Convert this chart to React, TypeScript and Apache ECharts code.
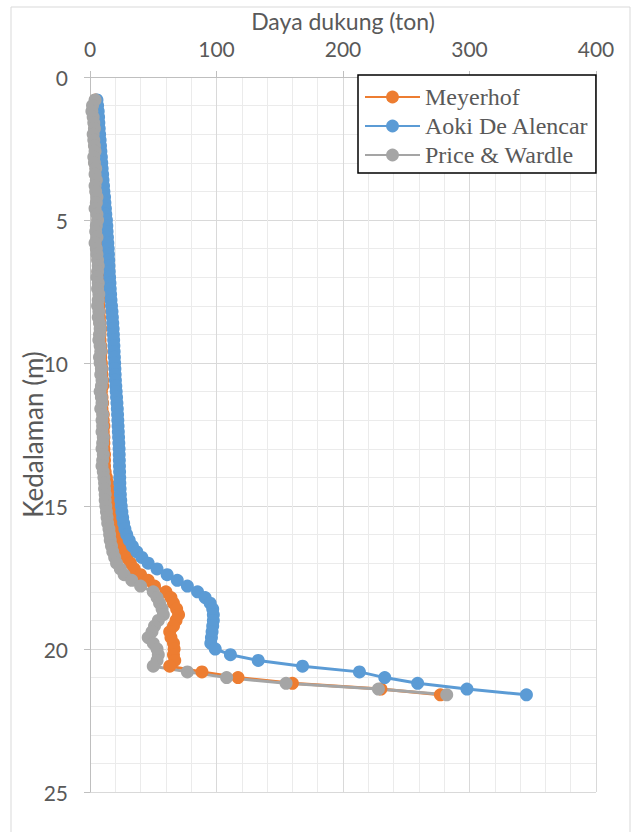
import React, { useEffect, useRef } from "react";
import * as echarts from "echarts";

const depth = [
  0.8, 1.0, 1.2, 1.4, 1.6, 1.8, 2.0, 2.2, 2.4, 2.6,
  2.8, 3.0, 3.2, 3.4, 3.6, 3.8, 4.0, 4.2, 4.4, 4.6,
  4.8, 5.0, 5.2, 5.4, 5.6, 5.8, 6.0, 6.2, 6.4, 6.6,
  6.8, 7.0, 7.2, 7.4, 7.6, 7.8, 8.0, 8.2, 8.4, 8.6,
  8.8, 9.0, 9.2, 9.4, 9.6, 9.8, 10.0, 10.2, 10.4, 10.6,
  10.8, 11.0, 11.2, 11.4, 11.6, 11.8, 12.0, 12.2, 12.4, 12.6,
  12.8, 13.0, 13.2, 13.4, 13.6, 13.8, 14.0, 14.2, 14.4, 14.6,
  14.8, 15.0, 15.2, 15.4, 15.6, 15.8, 16.0, 16.2, 16.4, 16.6,
  16.8, 17.0, 17.2, 17.4, 17.6, 17.8, 18.0, 18.2, 18.4, 18.6,
  18.8, 19.0, 19.2, 19.4, 19.6, 19.8, 20.0, 20.2, 20.4, 20.6,
  20.8, 21.0, 21.2, 21.4, 21.6,
];

const meyerhof = [
  4.5, 3, 2.5, 3, 3.5, 4, 3.5, 3.5, 4, 4.5,
  4, 4, 5, 4.5, 5.5, 5, 5, 6, 5.5, 5,
  6, 6.5, 6, 5.5, 6, 5, 5.5, 6, 6.5, 7,
  6.5, 6.5, 7, 7, 7.5, 7, 7, 7.5, 7.5, 8,
  8.5, 8, 8, 8.5, 9, 8.5, 9, 9.5, 9.5, 10,
  10, 9, 9.5, 10, 9.5, 10.5, 10.5, 11, 10.5, 11,
  11, 11, 11.5, 11.5, 11.5, 12, 13, 14, 14.5, 15,
  15.5, 16.5, 17.5, 18.5, 19.5, 21, 22, 23.5, 25, 27,
  29, 32, 35, 40, 46, 51, 60, 64, 66, 68.5,
  70, 68, 66, 63, 64, 66, 66.5, 66, 67, 63,
  88.5, 117, 160, 230, 277,
];

const aoki = [
  5.5, 6, 6.5, 6.8, 7, 7.3, 7.6, 8, 8.3, 8.6,
  9, 9.3, 9.6, 10, 10.3, 10.7, 11, 11.5, 11.8, 12.2,
  12.5, 13, 13.3, 13.5, 13.8, 14.1, 14.4, 14.6, 14.8, 15,
  15.2, 15.5, 15.8, 16, 16.3, 16.6, 17, 17.4, 17.7, 18,
  18.3, 18.5, 18.7, 18.9, 19.1, 19.3, 19.5, 19.7, 19.9, 20.1,
  20.4, 20.7, 21, 21.3, 21.6, 21.8, 22, 22.2, 22.4, 22.6,
  22.8, 23, 23.1, 23.2, 23.3, 23.4, 23.5, 23.6, 23.8, 24,
  24.3, 24.7, 25.2, 25.8, 26.6, 27.6, 29, 31, 33.5, 37,
  41, 46, 53, 61, 69, 77, 85, 91, 95, 97,
  97.5, 97.5, 97, 96.5, 96, 95.5, 99, 111, 133, 168,
  213, 233, 259, 298, 345,
];

const priceWardle = [
  4, 2, 1.5, 2.5, 3, 3.5, 2.5, 3, 3.5, 4,
  3, 3.5, 4.5, 4, 5, 4, 4.5, 5.5, 5, 4,
  5.5, 6, 5, 4.5, 5.5, 4, 5, 5.5, 6, 6.5,
  6, 5.5, 6.5, 6, 7, 6.5, 6, 7, 6.5, 7.5,
  8, 7.5, 7, 8, 8.5, 7.5, 8, 9, 8.5, 9.5,
  9, 8, 9, 9.5, 8.5, 10, 9.5, 10, 9.5, 10.5,
  10, 9.5, 10.5, 10, 9.5, 10.5, 11, 11.5, 11.5, 12,
  12, 12.5, 13, 13.5, 14, 15, 15.5, 16, 17, 18,
  19.5, 21, 24, 27, 33, 40, 50, 53, 55, 57,
  58, 54, 51, 49, 46, 50, 53, 54, 53, 50,
  77, 108, 155, 228, 282,
];

const seriesNames = ["Meyerhof", "Aoki De Alencar", "Price & Wardle"];
const seriesColors = ["#ED7D31", "#5B9BD5", "#A5A5A5"];
const xTitle = "Daya dukung (ton)";
const yTitle = "Kedalaman (m)";

export default function App() {
  const ref = useRef<HTMLDivElement>(null);
  useEffect(() => {
    if (!ref.current) return;
    const chart = echarts.init(ref.current, undefined, { renderer: "svg" });
    const values = [meyerhof, aoki, priceWardle];
    const labelFont = "Lato, 'Open Sans', sans-serif";
    chart.setOption({
      animation: false,
      backgroundColor: "#ffffff",
      grid: { left: 90, right: 39, top: 77, bottom: 40, containLabel: false },
      graphic: [
        {
          type: "rect",
          shape: { x: 11, y: 7, width: 619, height: 840 },
          style: { fill: "none", stroke: "#D9D9D9", lineWidth: 1 },
          silent: true,
        },
      ],
      legend: {
        orient: "vertical",
        left: 358,
        top: 75,
        data: seriesNames,
        backgroundColor: "#ffffff",
        borderColor: "#000000",
        borderWidth: 1.5,
        borderRadius: 0,
        padding: [10, 7, 6, 6],
        itemGap: 5,
        itemWidth: 55,
        itemHeight: 16,
        textStyle: {
          fontFamily: "'Liberation Serif', 'Times New Roman', serif",
          fontSize: 24,
          color: "#595959",
          lineHeight: 24,
        },
      },
      xAxis: {
        type: "value",
        position: "top",
        min: 0,
        max: 400,
        interval: 100,
        name: xTitle,
        nameLocation: "middle",
        nameGap: 45,
        nameMoveOverlap: false,
        nameTextStyle: { fontFamily: labelFont, fontSize: 23, color: "#595959" },
        axisLine: { show: true, lineStyle: { color: "#BFBFBF", width: 1 } },
        axisTick: { show: true, length: 6, lineStyle: { color: "#BFBFBF" } },
        axisLabel: { fontFamily: labelFont, fontSize: 21, color: "#595959", margin: 18 },
        splitLine: { show: true, lineStyle: { color: "#D9D9D9", width: 1 } },
        minorTick: { show: false, splitNumber: 5 },
        minorSplitLine: { show: true, lineStyle: { color: "#EBEBEB", width: 1 } },
      },
      yAxis: {
        type: "value",
        inverse: true,
        min: 0,
        max: 25,
        interval: 5,
        name: yTitle,
        nameLocation: "middle",
        nameGap: 44,
        nameMoveOverlap: false,
        nameRotate: 90,
        nameTextStyle: { fontFamily: labelFont, fontSize: 26, color: "#595959" },
        axisLine: { show: true, lineStyle: { color: "#BFBFBF", width: 1 } },
        axisTick: { show: true, length: 6, lineStyle: { color: "#BFBFBF" } },
        axisLabel: { fontFamily: labelFont, fontSize: 21, color: "#595959", margin: 22 },
        splitLine: { show: true, lineStyle: { color: "#D9D9D9", width: 1 } },
        minorTick: { show: false, splitNumber: 5 },
        minorSplitLine: { show: true, lineStyle: { color: "#EBEBEB", width: 1 } },
      },
      series: seriesNames.map((name, s) => ({
        name,
        type: "line",
        data: depth.map((d, i) => [values[s][i], d]),
        symbol: "circle",
        symbolSize: 13,
        showSymbol: true,
        color: seriesColors[s],
        lineStyle: { color: seriesColors[s], width: 3 },
        itemStyle: { color: seriesColors[s] },
        emphasis: { disabled: true },
      })),
    });
    return () => chart.dispose();
  }, []);
  return (
    <div
      ref={ref}
      style={{ position: "fixed", left: 0, top: 0, width: 635, height: 832 }}
    />
  );
}
